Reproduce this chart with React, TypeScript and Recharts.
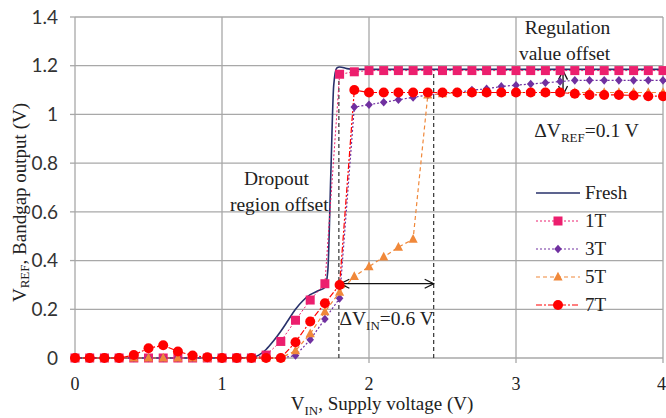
import React from 'react';
import { LineChart, Line, XAxis, YAxis, CartesianGrid, ReferenceLine, ReferenceDot } from 'recharts';

// supply voltage sweep (V)
const vin = [
  0, 0.1, 0.2, 0.3, 0.4, 0.5, 0.6, 0.7, 0.8, 0.9,
  1, 1.1, 1.2, 1.3, 1.4, 1.5, 1.6, 1.7, 1.8, 1.9,
  2, 2.1, 2.2, 2.3, 2.4, 2.5, 2.6, 2.7, 2.8, 2.9,
  3, 3.1, 3.2, 3.3, 3.4, 3.5, 3.6, 3.7, 3.8, 3.9, 4,
];

// fresh curve is sampled finer around the jump
const freshX = [0, 0.2, 0.4, 0.6, 0.8, 1, 1.1, 1.2, 1.25, 1.3, 1.35, 1.4, 1.45, 1.5, 1.55, 1.6, 1.65, 1.7, 1.72, 1.74, 1.76, 1.78, 1.8, 1.85, 1.9, 2, 2.5, 3, 3.5, 4];
const freshY = [0, 0, 0, 0, 0, 0, 0, 0.002, 0.012, 0.035, 0.07, 0.11, 0.155, 0.2, 0.235, 0.26, 0.275, 0.29, 0.36, 0.75, 1.12, 1.19, 1.195, 1.188, 1.185, 1.185, 1.185, 1.185, 1.185, 1.185];

const t1 = [
  0, 0, 0, 0, 0, 0, 0, 0, 0, 0,
  0, 0, 0, 0.012, 0.068, 0.155, 0.238, 0.305, 1.165, 1.175,
  1.18, 1.18, 1.18, 1.18, 1.18, 1.18, 1.18, 1.18, 1.18, 1.18,
  1.18, 1.18, 1.18, 1.18, 1.18, 1.18, 1.18, 1.18, 1.18, 1.18, 1.18,
];
const t3 = [
  0, 0, 0, 0, 0, 0, 0, 0, 0, 0,
  0, 0, 0, 0, 0, 0.01, 0.075, 0.16, 0.245, 1.03,
  1.04, 1.05, 1.06, 1.07, 1.08, 1.085, 1.09, 1.1, 1.105, 1.115,
  1.12, 1.125, 1.13, 1.135, 1.14, 1.14, 1.14, 1.14, 1.14, 1.14, 1.14,
];
const t5 = [
  0, 0, 0, 0, 0, 0, 0, 0, 0, 0,
  0, 0, 0, 0, 0, 0.03, 0.1, 0.19, 0.27, 0.335,
  0.375, 0.415, 0.455, 0.488, 1.08, 1.085, 1.09, 1.09, 1.09, 1.09,
  1.09, 1.09, 1.09, 1.09, 1.09, 1.09, 1.09, 1.09, 1.09, 1.09, 1.09,
];
const t7 = [
  0, 0, 0, 0, 0.012, 0.04, 0.052, 0.027, 0.01, 0.003,
  0, 0, 0, 0, 0, 0.065, 0.15, 0.225, 0.3, 1.1,
  1.09, 1.09, 1.09, 1.09, 1.09, 1.09, 1.09, 1.09, 1.09, 1.09,
  1.09, 1.09, 1.09, 1.09, 1.085, 1.08, 1.08, 1.08, 1.078, 1.075, 1.075,
];

const xTicks = [0, 1, 2, 3, 4];
const yTicks = [0, 0.2, 0.4, 0.6, 0.8, 1, 1.2, 1.4];

const serif = "'Liberation Serif', 'DejaVu Serif', serif";
const sans = "Lato, 'Open Sans', sans-serif";
const gridColor = '#a8a8a8';

type Kind = 'none' | 'square' | 'diamond' | 'triangle' | 'circle';

interface SeriesDef {
  name: string;
  color: string;
  dash?: string;
  width: number;
  kind: Kind;
  points: { x: number; y: number }[];
}

const series: SeriesDef[] = [
  { name: 'Fresh', color: '#27306a', width: 1.6, kind: 'none', points: freshX.map((x, i) => ({ x, y: freshY[i] })) },
  { name: '1T', color: '#ec1f6e', dash: '2 2', width: 1, kind: 'square', points: vin.map((x, i) => ({ x, y: t1[i] })) },
  { name: '3T', color: '#7030a0', dash: '2 2', width: 1.2, kind: 'diamond', points: vin.map((x, i) => ({ x, y: t3[i] })) },
  { name: '5T', color: '#f0883a', dash: '4 3', width: 1.2, kind: 'triangle', points: vin.map((x, i) => ({ x, y: t5[i] })) },
  { name: '7T', color: '#ff0000', dash: '6 2 2 2', width: 1.2, kind: 'circle', points: vin.map((x, i) => ({ x, y: t7[i] })) },
];

function drawMarker(kind: Kind, cx: number, cy: number, color: string, key?: string) {
  if (kind === 'square') return <rect key={key} x={cx - 4.5} y={cy - 4.5} width={9} height={9} fill={color} />;
  if (kind === 'diamond') return <polygon key={key} points={`${cx},${cy - 4.3} ${cx + 3.8},${cy} ${cx},${cy + 4.3} ${cx - 3.8},${cy}`} fill={color} />;
  if (kind === 'triangle') return <polygon key={key} points={`${cx},${cy - 5.2} ${cx + 4.6},${cy + 3.6} ${cx - 4.6},${cy + 3.6}`} fill={color} />;
  if (kind === 'circle') return <circle key={key} cx={cx} cy={cy} r={5} fill={color} />;
  return <g key={key} />;
}

function DoubleArrow(props: any) {
  const { x1, y1, x2, y2 } = props;
  const ang = Math.atan2(y2 - y1, x2 - x1);
  const len = 9;
  const half = 4.5;
  const head = (px: number, py: number, a: number) => {
    const bx = px - len * Math.cos(a);
    const by = py - len * Math.sin(a);
    const nx = -Math.sin(a) * half;
    const ny = Math.cos(a) * half;
    return `${bx + nx},${by + ny} ${px},${py} ${bx - nx},${by - ny}`;
  };
  return (
    <g stroke="#111" strokeWidth={1.3} fill="none">
      <line x1={x1} y1={y1} x2={x2} y2={y2} />
      <polyline points={head(x2, y2, ang)} />
      <polyline points={head(x1, y1, ang + Math.PI)} />
    </g>
  );
}

// text with a subscript part: main, sub, rest
function withSub(main: string, low: string, rest: string, size = 13) {
  return (
    <>
      <tspan>{main}</tspan>
      <tspan dy={5} fontSize={size}>{low}</tspan>
      <tspan dy={-5}>{rest}</tspan>
    </>
  );
}

function note(x: number, y: number, body: React.ReactNode, key: string) {
  return (
    <ReferenceDot
      key={key}
      x={x}
      y={y}
      r={1}
      fill="none"
      stroke="none"
      label={{
        content: (p: any) => {
          const vb = p.viewBox || {};
          const cx = (vb.x ?? 0) + (vb.width ?? 0) / 2;
          const cy = (vb.y ?? 0) + (vb.height ?? 0) / 2;
          return (
            <text x={cx} y={cy} dy={6} textAnchor="middle" fontFamily={serif} fontSize={19.5} fill="#222">
              {body}
            </text>
          );
        },
      }}
    />
  );
}

function YTitle(p: any) {
  const vb = p.viewBox;
  const x = vb.x + 19;
  const y = vb.y + vb.height / 2 + 15;
  return (
    <text x={x} y={y} transform={`rotate(-90 ${x} ${y})`} textAnchor="middle" dominantBaseline="central" fontFamily={serif} fontSize={19} fill="#222">
      {withSub('V', 'REF', ', Bandgap output  (V)')}
    </text>
  );
}

function XTitle(p: any) {
  const vb = p.viewBox;
  const x = vb.x + vb.width / 2 + 13;
  const y = vb.y + 52;
  return (
    <text x={x} y={y} textAnchor="middle" fontFamily={serif} fontSize={19} fill="#222">
      {withSub('V', 'IN', ', Supply voltage (V)')}
    </text>
  );
}

function Legend() {
  return (
    <div style={{ position: 'absolute', left: 534, top: 179, fontFamily: serif, fontSize: 19, color: '#222' }}>
      {series.map((s) => (
        <div key={s.name} style={{ display: 'flex', alignItems: 'center', height: 28 }}>
          <svg width={48} height={20} style={{ display: 'block' }}>
            <line x1={2} y1={10} x2={46} y2={10} stroke={s.color} strokeWidth={s.width} strokeDasharray={s.dash} />
            {drawMarker(s.kind, 24, 10, s.color)}
          </svg>
          <span style={{ marginLeft: 3 }}>{s.name}</span>
        </div>
      ))}
    </div>
  );
}

export default function App() {
  return (
    <div style={{ position: 'relative', width: 666, height: 418, background: '#fff' }}>
      <style>{'body{margin:0}'}</style>
      <LineChart width={666} height={418} margin={{ top: 17, right: 3, bottom: 0, left: 0 }}>
        {/* grid also provides the axis lines at 0 so markers sit on top of them */}
        <CartesianGrid stroke={gridColor} strokeWidth={1.3} />
        <XAxis
          dataKey="x"
          type="number"
          domain={[0, 4]}
          ticks={xTicks}
          height={60}
          axisLine={false}
          tickLine={{ stroke: gridColor, strokeWidth: 1.3 }}
          tickSize={5}
          tickMargin={14}
          tick={{ fontFamily: serif, fontSize: 18, fill: '#222' }}
          label={{ content: XTitle }}
        />
        <YAxis
          type="number"
          domain={[0, 1.4]}
          ticks={yTicks}
          width={75}
          axisLine={false}
          tickLine={{ stroke: gridColor, strokeWidth: 1.3 }}
          tickSize={5}
          tickMargin={12}
          tick={{ fontFamily: sans, fontSize: 19, fill: '#333' }}
          label={{ content: YTitle }}
        />
        <ReferenceLine segment={[{ x: 1.795, y: 0 }, { x: 1.795, y: 1.18 }]} stroke="#333" strokeWidth={1.2} strokeDasharray="4 3" />
        <ReferenceLine segment={[{ x: 2.44, y: 0 }, { x: 2.44, y: 1.18 }]} stroke="#333" strokeWidth={1.2} strokeDasharray="4 3" />
        {series.map((s) => (
          <Line
            key={s.name}
            data={s.points}
            dataKey="y"
            name={s.name}
            type={s.kind === 'none' ? 'monotone' : 'linear'}
            stroke={s.color}
            strokeWidth={s.width}
            strokeDasharray={s.dash}
            dot={s.kind === 'none' ? false : (p: any) => drawMarker(s.kind, p.cx, p.cy, s.color, `${s.name}-${p.index}`)}
            activeDot={false}
            isAnimationActive={false}
          />
        ))}
        <ReferenceLine segment={[{ x: 1.805, y: 0.305 }, { x: 2.44, y: 0.305 }]} shape={DoubleArrow} />
        <ReferenceLine segment={[{ x: 3.32, y: 1.18 }, { x: 3.32, y: 1.08 }]} shape={DoubleArrow} />
        {note(1.37, 0.735, 'Dropout', 'n1')}
        {note(1.39, 0.63, 'region offset', 'n2')}
        {note(2.12, 0.16, withSub('ΔV', 'IN', '=0.6 V'), 'n3')}
        {note(3.35, 1.355, 'Regulation', 'n4')}
        {note(3.33, 1.25, 'value offset', 'n5')}
        {note(3.48, 0.93, withSub('ΔV', 'REF', '=0.1 V'), 'n6')}
      </LineChart>
      <Legend />
    </div>
  );
}
